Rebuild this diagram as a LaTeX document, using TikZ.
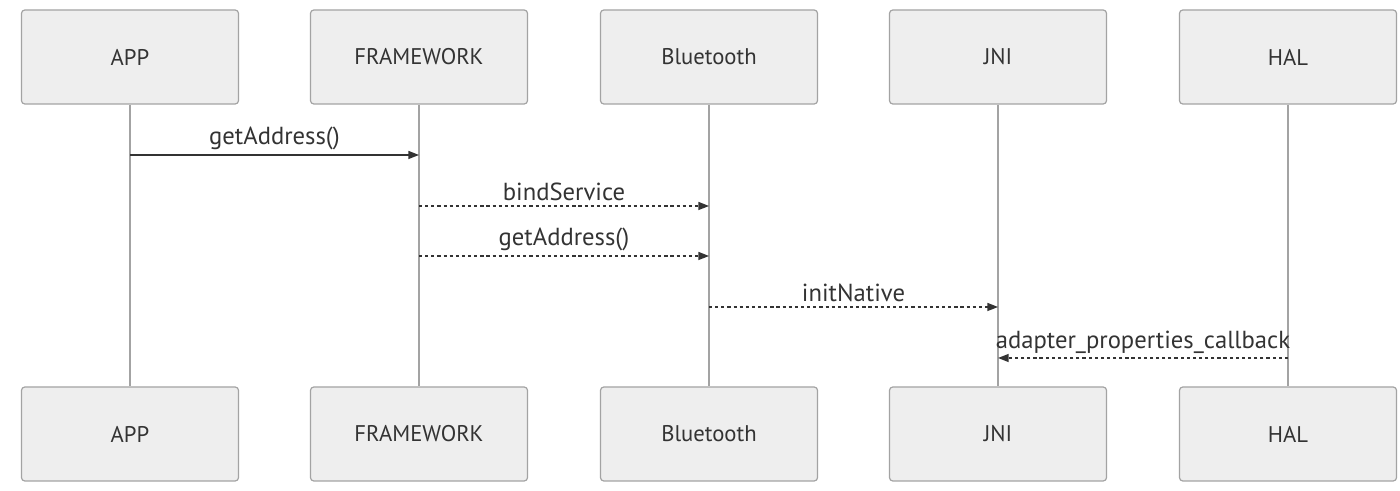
\documentclass[tikz,border=0pt]{standalone}
\usepackage{fontspec}
\setmainfont{PT Sans}
\usetikzlibrary{arrows.meta,positioning}
\definecolor{boxfill}{HTML}{EEEEEE}
\definecolor{boxline}{HTML}{A3A3A3}
\definecolor{msgline}{HTML}{333333}
\tikzset{
  actor/.style={draw=boxline,fill=boxfill,rounded corners=2.5pt,line width=0.9pt,
    minimum width=162.75pt,minimum height=70.5pt,inner sep=0pt,
    font=\fontsize{17}{20}\selectfont,text=msgline},
  life/.style={draw=boxline,line width=0.8pt},
  msg/.style={draw=msgline,line width=1.1pt,-{Triangle[length=8pt,width=6pt]}},
  reply/.style={msg,dash pattern=on 2.4pt off 2.2pt},
  lbl/.style={font=\fontsize{18.5}{22}\selectfont,text=msgline,above=3pt,inner sep=0pt}
}

\begin{document}
\begin{tikzpicture}[x=0.75pt,y=-0.75pt]
  \useasboundingbox (0,0) rectangle (1400,491);

  % participants, top row
  \node[actor] (app)  at (130,57)  {APP};
  \node[actor] (fw)   at (419,57)  {FRAMEWORK};
  \node[actor] (bt)   at (709,57)  {Bluetooth};
  \node[actor] (jni)  at (998,57)  {JNI};
  \node[actor] (hal)  at (1288,57) {HAL};

  % participants, bottom row
  \node[actor] (app2) at (130,434)  {APP};
  \node[actor] (fw2)  at (419,434)  {FRAMEWORK};
  \node[actor] (bt2)  at (709,434)  {Bluetooth};
  \node[actor] (jni2) at (998,434)  {JNI};
  \node[actor] (hal2) at (1288,434) {HAL};

  % lifelines
  \draw[life] (app.south) -- (app2.north);
  \draw[life] (fw.south)  -- (fw2.north);
  \draw[life] (bt.south)  -- (bt2.north);
  \draw[life] (jni.south) -- (jni2.north);
  \draw[life] (hal.south) -- (hal2.north);

  % message ends
  \coordinate (m1a) at (app.south |- 0,155);
  \coordinate (m1b) at (fw.south  |- 0,155);
  \coordinate (m2a) at (fw.south  |- 0,206);
  \coordinate (m2b) at (bt.south  |- 0,206);
  \coordinate (m3a) at (fw.south  |- 0,256);
  \coordinate (m3b) at (bt.south  |- 0,256);
  \coordinate (m4a) at (bt.south  |- 0,307);
  \coordinate (m4b) at (jni.south |- 0,307);
  \coordinate (m5a) at (hal.south |- 0,358);
  \coordinate (m5b) at (jni.south |- 0,358);

  % messages
  \draw[msg]   (m1a) -- node[lbl] {getAddress()} (m1b);
  \draw[reply] (m2a) -- node[lbl] {bindService} (m2b);
  \draw[reply] (m3a) -- node[lbl] {getAddress()} (m3b);
  \draw[reply] (m4a) -- node[lbl] {initNative} (m4b);
  \draw[reply] (m5a) -- node[lbl] {adapter\_properties\_callback} (m5b);
\end{tikzpicture}
\end{document}
